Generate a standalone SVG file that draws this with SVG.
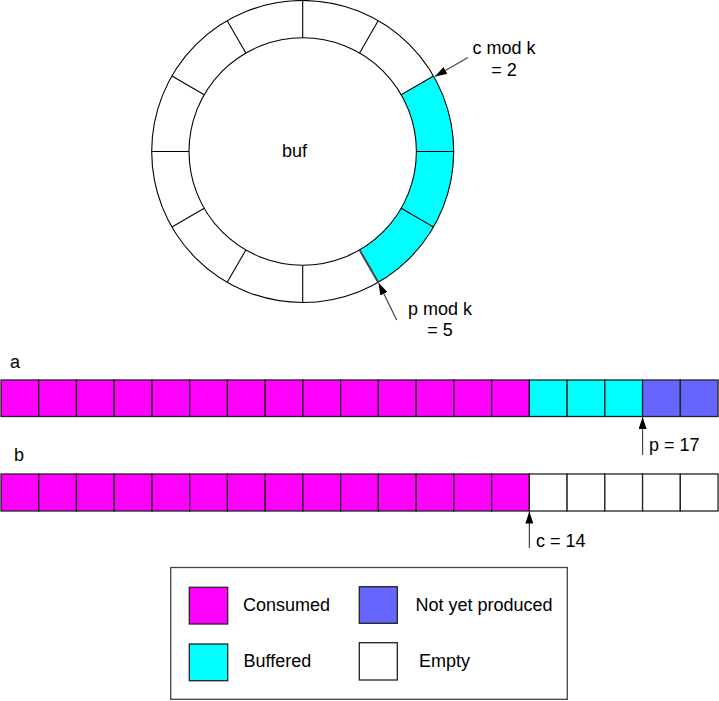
<svg xmlns="http://www.w3.org/2000/svg" width="719" height="701" viewBox="0 0 719 701">
<defs>
<marker id="ah" markerUnits="userSpaceOnUse" markerWidth="12" markerHeight="8" refX="12" refY="4" orient="auto">
<path d="M0,0 L12,4 L0,8 Z" fill="#000"/>
</marker>
<style>
text{font-family:"Liberation Sans",Arial,sans-serif;font-size:18px;fill:#000}
.ring{fill:none;stroke:#000;stroke-width:1.1}
.div{stroke:#000;stroke-width:1.1}
.cell{stroke:#222;stroke-width:1.3}
.mag{fill:#FF00FF}
.cya{fill:#00FFFF}
.blu{fill:#6666FF}
.emp{fill:#FFFFFF}
.ptr{stroke:#444;stroke-width:1.2;fill:none;marker-end:url(#ah)}
</style>
</defs>
<rect width="719" height="701" fill="#fff"/>

<g id="ring">
<path d="M433.47 76 A151 151 0 0 1 378.2 282.27 L359.55 249.97 A113.7 113.7 0 0 0 401.17 94.65 Z" fill="#00FFFF"/>
<circle class="ring" cx="302.7" cy="151.5" r="151"/>
<circle class="ring" cx="302.7" cy="151.5" r="113.7"/>
<line class="div" x1="416.4" y1="151.5" x2="453.7" y2="151.5"/>
<line class="div" x1="401.17" y1="208.35" x2="433.47" y2="227"/>
<line x1="359.55" y1="249.97" x2="378.2" y2="282.27" stroke="#444" stroke-width="2"/>
<line class="div" x1="302.7" y1="265.2" x2="302.7" y2="302.5"/>
<line class="div" x1="245.85" y1="249.97" x2="227.2" y2="282.27"/>
<line class="div" x1="204.23" y1="208.35" x2="171.93" y2="227"/>
<line class="div" x1="189" y1="151.5" x2="151.7" y2="151.5"/>
<line class="div" x1="204.23" y1="94.65" x2="171.93" y2="76"/>
<line class="div" x1="245.85" y1="53.03" x2="227.2" y2="20.73"/>
<line class="div" x1="302.7" y1="37.8" x2="302.7" y2="0.5"/>
<line class="div" x1="359.55" y1="53.03" x2="378.2" y2="20.73"/>
<line class="div" x1="401.17" y1="94.65" x2="433.47" y2="76"/>
<text x="282" y="157">buf</text>
</g>

<g id="bar-a">
<text x="10" y="368">a</text>
<rect class="cell mag" x="1" y="380" width="37.74" height="36.5"/>
<rect class="cell mag" x="38.74" y="380" width="37.74" height="36.5"/>
<rect class="cell mag" x="76.48" y="380" width="37.74" height="36.5"/>
<rect class="cell mag" x="114.22" y="380" width="37.74" height="36.5"/>
<rect class="cell mag" x="151.96" y="380" width="37.74" height="36.5"/>
<rect class="cell mag" x="189.7" y="380" width="37.74" height="36.5"/>
<rect class="cell mag" x="227.44" y="380" width="37.74" height="36.5"/>
<rect class="cell mag" x="265.18" y="380" width="37.74" height="36.5"/>
<rect class="cell mag" x="302.92" y="380" width="37.74" height="36.5"/>
<rect class="cell mag" x="340.66" y="380" width="37.74" height="36.5"/>
<rect class="cell mag" x="378.4" y="380" width="37.74" height="36.5"/>
<rect class="cell mag" x="416.14" y="380" width="37.74" height="36.5"/>
<rect class="cell mag" x="453.88" y="380" width="37.74" height="36.5"/>
<rect class="cell mag" x="491.62" y="380" width="37.74" height="36.5"/>
<rect class="cell cya" x="529.36" y="380" width="37.74" height="36.5"/>
<rect class="cell cya" x="567.1" y="380" width="37.74" height="36.5"/>
<rect class="cell cya" x="604.84" y="380" width="37.74" height="36.5"/>
<rect class="cell blu" x="642.58" y="380" width="37.74" height="36.5"/>
<rect class="cell blu" x="680.32" y="380" width="37.74" height="36.5"/>
</g>

<g id="bar-b">
<text x="14" y="461">b</text>
<rect class="cell mag" x="1" y="474" width="37.74" height="37"/>
<rect class="cell mag" x="38.74" y="474" width="37.74" height="37"/>
<rect class="cell mag" x="76.48" y="474" width="37.74" height="37"/>
<rect class="cell mag" x="114.22" y="474" width="37.74" height="37"/>
<rect class="cell mag" x="151.96" y="474" width="37.74" height="37"/>
<rect class="cell mag" x="189.7" y="474" width="37.74" height="37"/>
<rect class="cell mag" x="227.44" y="474" width="37.74" height="37"/>
<rect class="cell mag" x="265.18" y="474" width="37.74" height="37"/>
<rect class="cell mag" x="302.92" y="474" width="37.74" height="37"/>
<rect class="cell mag" x="340.66" y="474" width="37.74" height="37"/>
<rect class="cell mag" x="378.4" y="474" width="37.74" height="37"/>
<rect class="cell mag" x="416.14" y="474" width="37.74" height="37"/>
<rect class="cell mag" x="453.88" y="474" width="37.74" height="37"/>
<rect class="cell mag" x="491.62" y="474" width="37.74" height="37"/>
<rect class="cell emp" x="529.36" y="474" width="37.74" height="37"/>
<rect class="cell emp" x="567.1" y="474" width="37.74" height="37"/>
<rect class="cell emp" x="604.84" y="474" width="37.74" height="37"/>
<rect class="cell emp" x="642.58" y="474" width="37.74" height="37"/>
<rect class="cell emp" x="680.32" y="474" width="37.74" height="37"/>
</g>

<g id="connectors">
<line class="ptr" x1="468" y1="57.5" x2="435" y2="76.5"/>
<line class="ptr" x1="396.7" y1="320" x2="378.6" y2="283"/>
<line class="ptr" x1="642.58" y1="455" x2="642.58" y2="417"/>
<line class="ptr" x1="529.36" y1="548" x2="529.36" y2="511.5"/>
</g>

<g id="label-c-mod">
<text x="504" y="54" text-anchor="middle">c mod k</text>
<text x="504" y="76" text-anchor="middle">= 2</text>
</g>
<g id="label-p-mod">
<text x="440" y="315" text-anchor="middle">p mod k</text>
<text x="440" y="336" text-anchor="middle">= 5</text>
</g>
<g id="label-p">
<text x="649" y="451">p = 17</text>
</g>
<g id="label-c">
<text x="536" y="547">c = 14</text>
</g>

<g id="legend">
<rect x="170.7" y="567.5" width="396.6" height="131.8" fill="#fff" stroke="#444" stroke-width="1.3"/>
<rect class="cell mag" x="189.3" y="587.3" width="38.4" height="36.7"/>
<text x="243" y="610.5">Consumed</text>
<rect class="cell blu" x="359.3" y="586.7" width="38" height="36.6"/>
<text x="415.5" y="610.5">Not yet produced</text>
<rect class="cell cya" x="189.3" y="644" width="38.4" height="36.7"/>
<text x="243.5" y="667">Buffered</text>
<rect class="cell emp" x="359.3" y="642.7" width="38" height="37.3"/>
<text x="419" y="667">Empty</text>
</g>
</svg>
